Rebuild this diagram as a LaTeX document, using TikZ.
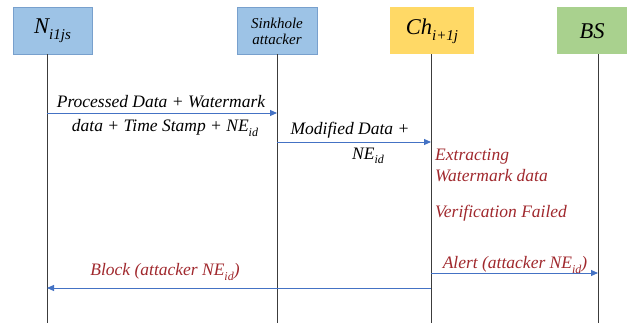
\documentclass[tikz,border=0pt]{standalone}
\usepackage{fontspec}
\setmainfont{Liberation Serif}
\usetikzlibrary{arrows.meta}
\definecolor{boxblue}{RGB}{157,195,230}
\definecolor{boxblueline}{RGB}{120,160,205}
\definecolor{boxyellow}{RGB}{255,217,102}
\definecolor{boxgreen}{RGB}{169,209,142}
\definecolor{msgblue}{RGB}{68,114,196}
\definecolor{noteRed}{RGB}{160,40,45}
\definecolor{lifegray}{RGB}{60,60,60}
\newcommand{\sub}[1]{\raisebox{-0.28em}{\fontsize{15}{15}\selectfont #1}}
\newcommand{\lsub}[1]{\raisebox{-0.25em}{\fontsize{12}{12}\selectfont #1}}
\tikzset{
  actor/.style={minimum height=47pt, inner sep=0pt,
                font=\itshape\fontsize{22.5}{24}\selectfont},
  smallactor/.style={minimum height=47pt, inner sep=0pt, align=center,
                font=\itshape\fontsize{15}{16}\selectfont},
  lifeline/.style={draw=lifegray, line width=0.8pt},
  msg/.style={draw=msgblue, line width=0.9pt, -{Triangle[length=7pt,width=6pt]}},
  msgtext/.style={font=\itshape\fontsize{17.5}{19}\selectfont, inner sep=0pt},
  note/.style={font=\itshape\fontsize{17.5}{19}\selectfont, inner sep=0pt, text=noteRed}
}
\begin{document}
\begin{tikzpicture}[x=1pt, y=-1pt]
\useasboundingbox (0,0) rectangle (634,323);

% participants
\node[actor, fill=boxblue, draw=boxblueline, minimum width=79pt] (src) at (52.5,31)
      {N\sub{i1js}};
\node[smallactor, fill=boxblue, draw=boxblueline, minimum width=80pt] (sink) at (277,31)
      {Sinkhole\\attacker};
\node[actor, fill=boxyellow, minimum width=84pt] (ch) at (432,31)
      {Ch\sub{i+1j}};
\node[actor, fill=boxgreen, minimum width=70pt] (bs) at (592,31)
      {BS};

% lifeline ends
\coordinate (srcT) at (47,54.5);  \coordinate (srcB) at (47,323);
\coordinate (sinkT) at (277,54.5); \coordinate (sinkB) at (277,323);
\coordinate (chT) at (431,54.5);  \coordinate (chB) at (431,323);
\coordinate (bsT) at (598,54.5);  \coordinate (bsB) at (598,323);
\draw[lifeline] (srcT) -- (srcB);
\draw[lifeline] (sinkT) -- (sinkB);
\draw[lifeline] (chT) -- (chB);
\draw[lifeline] (bsT) -- (bsB);

% message anchor points on the lifelines
\coordinate (m1a) at (47,113);  \coordinate (m1b) at (277,113);
\coordinate (m2a) at (277,142); \coordinate (m2b) at (431,142);
\coordinate (m3a) at (431,273); \coordinate (m3b) at (598,273);
\coordinate (m4a) at (431,288); \coordinate (m4b) at (47,288);

\draw[msg] (m1a) -- (m1b);
\draw[msg] (m2a) -- (m2b);
\draw[msg] (m3a) -- (m3b);
\draw[msg] (m4a) -- (m4b);

% message labels
\node[msgtext] (l1a) at (161,102) {Processed Data + Watermark};
\node[msgtext] (l1b) at (165,128) {data + Time Stamp + NE\lsub{id}};
\node[msgtext] (l2a) at (350,130) {Modified Data +};
\node[msgtext] (l2b) at (368,156) {NE\lsub{id}};
\node[note, anchor=west] (n1) at (435,157) {Extracting};
\node[note, anchor=west] (n2) at (435,176) {Watermark data};
\node[note, anchor=west] (n3) at (435,213) {Verification Failed};
\node[note] (l3) at (515,265) {Alert (attacker NE\lsub{id})};
\node[note] (l4) at (165,272) {Block (attacker NE\lsub{id})};
\end{tikzpicture}
\end{document}
